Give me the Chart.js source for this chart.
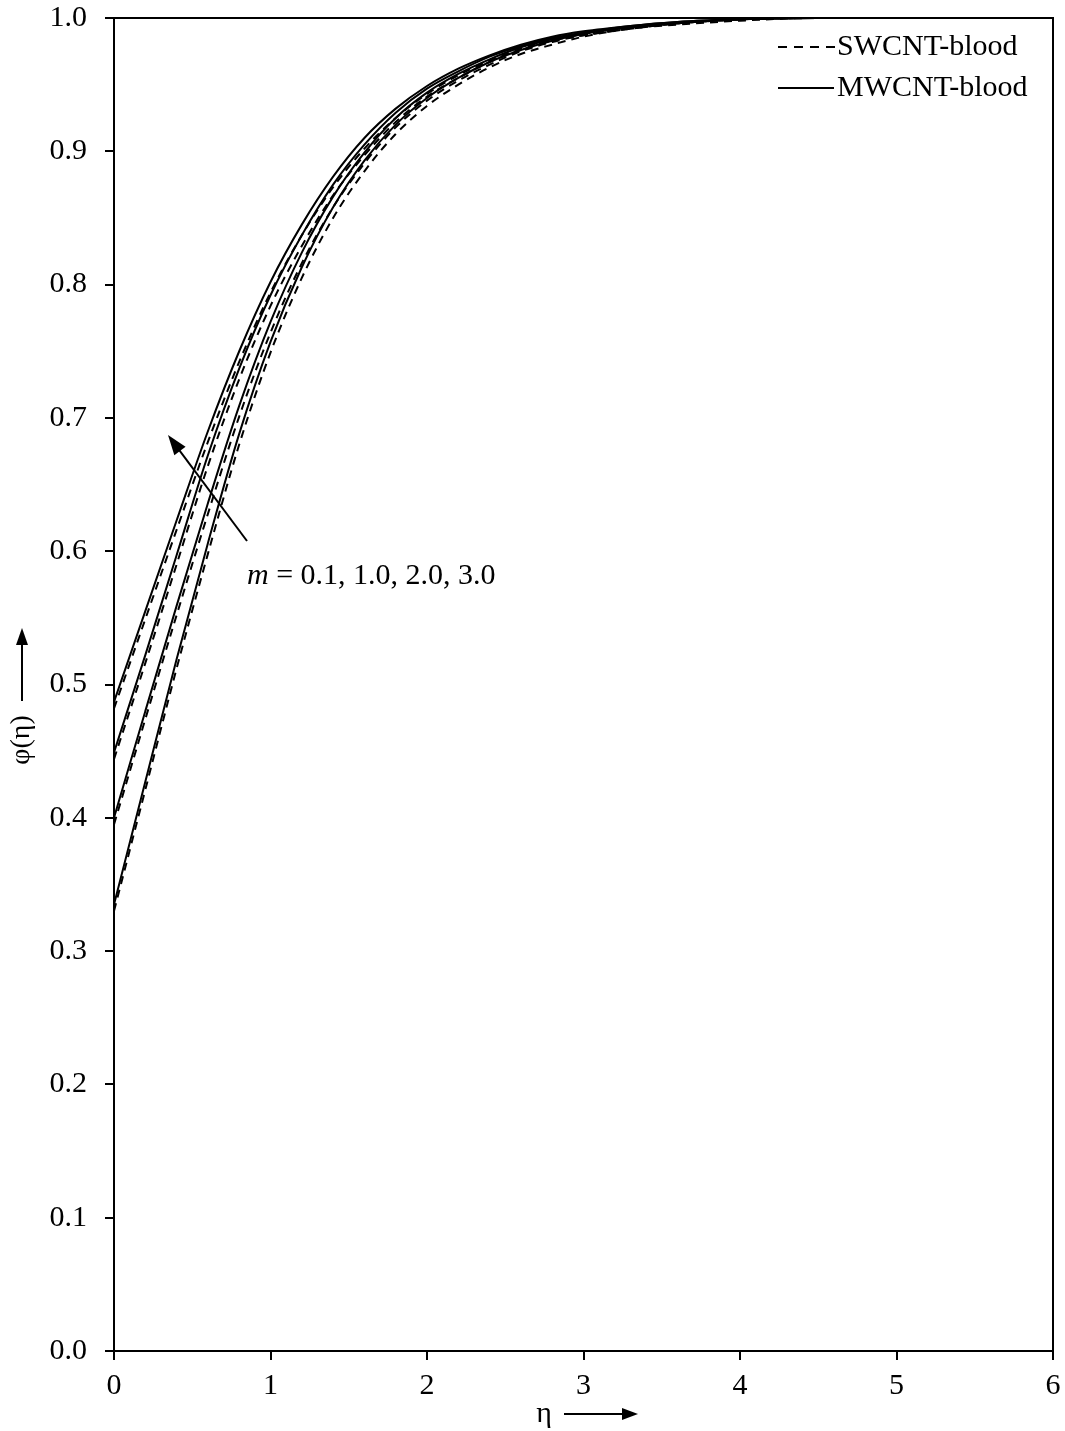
<!DOCTYPE html>
<html><head><meta charset="utf-8">
<script src="https://cdn.jsdelivr.net/npm/chart.js@4"></script>
<style>html,body{margin:0;padding:0;background:#fff}#wrap{width:1065px;height:1431px;position:relative}</style>
</head><body><div id="wrap"><canvas id="c"></canvas></div>
<script>
// eta grid
const eta = [0,0.2,0.4,0.6,0.8,1.0,1.2,1.4,1.6,1.8,2.0,2.2,2.4,2.6,2.8,3.0,3.3,3.6,4.0,4.5,5.0,6.0];
// MWCNT-blood (solid)
const mw_m01 = [0.335,0.427,0.519,0.606,0.688,0.757,0.813,0.858,0.893,0.920,0.940,0.955,0.967,0.976,0.983,0.988,0.993,0.996,0.999,1.0,1.0,1.0];
const mw_m10 = [0.400,0.480,0.559,0.636,0.709,0.772,0.824,0.866,0.899,0.925,0.944,0.958,0.969,0.978,0.984,0.989,0.993,0.996,0.999,1.0,1.0,1.0];
const mw_m20 = [0.449,0.522,0.597,0.672,0.737,0.792,0.837,0.875,0.905,0.929,0.947,0.960,0.971,0.979,0.985,0.989,0.994,0.997,0.999,1.0,1.0,1.0];
const mw_m30 = [0.487,0.555,0.623,0.690,0.750,0.802,0.845,0.881,0.910,0.932,0.949,0.962,0.972,0.980,0.986,0.990,0.994,0.997,0.999,1.0,1.0,1.0];
// SWCNT-blood (dashed)
const sw_m01 = [0.330,0.421,0.512,0.598,0.680,0.749,0.805,0.850,0.885,0.913,0.934,0.950,0.963,0.973,0.980,0.986,0.992,0.995,0.998,1.0,1.0,1.0];
const sw_m10 = [0.395,0.474,0.552,0.628,0.701,0.764,0.816,0.858,0.891,0.918,0.938,0.953,0.965,0.975,0.982,0.987,0.992,0.996,0.999,1.0,1.0,1.0];
const sw_m20 = [0.444,0.516,0.590,0.664,0.729,0.784,0.829,0.867,0.897,0.922,0.941,0.955,0.967,0.976,0.983,0.987,0.992,0.996,0.999,1.0,1.0,1.0];
const sw_m30 = [0.482,0.549,0.616,0.682,0.742,0.794,0.837,0.873,0.902,0.925,0.943,0.957,0.968,0.977,0.983,0.988,0.993,0.996,0.999,1.0,1.0,1.0];

const xTicks = [0,1,2,3,4,5,6];
const yTicks = [0.0,0.1,0.2,0.3,0.4,0.5,0.6,0.7,0.8,0.9,1.0];
const legendLabels = ['SWCNT-blood','MWCNT-blood'];
const annotationText = ['m',' = 0.1, 1.0, 2.0, 3.0'];
const xTitle = 'η';
const yTitle = 'φ(η)';

const FONT = '"Liberation Serif", "Times New Roman", serif';
const pts = arr => arr.map((v,i)=>({x:eta[i], y:v}));
const mk = (label, arr, dashed) => ({
  label, data: pts(arr), borderColor:'#000', backgroundColor:'#000',
  borderWidth:2, pointRadius:0, borderDash: dashed ? [8,6] : [],
  cubicInterpolationMode:'monotone', fill:false
});

const datasets = [
  mk('SWCNT m=0.1', sw_m01, true), mk('SWCNT m=1.0', sw_m10, true),
  mk('SWCNT m=2.0', sw_m20, true), mk('SWCNT m=3.0', sw_m30, true),
  mk('MWCNT m=0.1', mw_m01, false), mk('MWCNT m=1.0', mw_m10, false),
  mk('MWCNT m=2.0', mw_m20, false), mk('MWCNT m=3.0', mw_m30, false)
];

function arrow(ctx, x1, y1, x2, y2, head, width) {
  const a = Math.atan2(y2-y1, x2-x1);
  ctx.beginPath(); ctx.moveTo(x1,y1);
  ctx.lineTo(x2 - Math.cos(a)*head*0.8, y2 - Math.sin(a)*head*0.8); ctx.stroke();
  ctx.beginPath(); ctx.moveTo(x2,y2);
  ctx.lineTo(x2 - head*Math.cos(a) + width*Math.sin(a), y2 - head*Math.sin(a) - width*Math.cos(a));
  ctx.lineTo(x2 - head*Math.cos(a) - width*Math.sin(a), y2 - head*Math.sin(a) + width*Math.cos(a));
  ctx.closePath(); ctx.fill();
}

const decor = {
  id:'decor',
  afterDraw(chart){
    const ctx = chart.ctx, ca = chart.chartArea;
    ctx.save();
    ctx.strokeStyle='#000'; ctx.fillStyle='#000'; ctx.lineWidth=2; ctx.setLineDash([]);
    // frame
    ctx.beginPath(); ctx.moveTo(ca.left, ca.top); ctx.lineTo(ca.right, ca.top); ctx.lineTo(ca.right, ca.bottom); ctx.stroke();
    // legend
    ctx.font = '30px ' + FONT; ctx.textBaseline='middle'; ctx.textAlign='left';
    ctx.setLineDash([9,7]);
    ctx.beginPath(); ctx.moveTo(778,47); ctx.lineTo(835,47); ctx.stroke();
    ctx.setLineDash([]);
    ctx.beginPath(); ctx.moveTo(778,88); ctx.lineTo(834,88); ctx.stroke();
    ctx.fillText(legendLabels[0], 837, 47);
    ctx.fillText(legendLabels[1], 837, 88);
    // annotation arrow
    arrow(ctx, 247, 541, 168, 435, 20, 7);
    ctx.font = 'italic 30px ' + FONT; ctx.textBaseline='alphabetic';
    ctx.fillText(annotationText[0], 247, 584);
    const w = ctx.measureText(annotationText[0]).width;
    ctx.font = '30px ' + FONT;
    ctx.fillText(annotationText[1], 247 + w, 584);
    // x title
    ctx.font = '30px ' + FONT; ctx.textBaseline='middle'; ctx.textAlign='center';
    ctx.fillText(xTitle, 544, 1414);
    arrow(ctx, 564, 1414, 638, 1414, 16, 6);
    // y title
    ctx.save(); ctx.translate(22, 740); ctx.rotate(-Math.PI/2);
    ctx.font = '28px ' + FONT; ctx.textAlign='center'; ctx.textBaseline='middle';
    ctx.fillText(yTitle, 0, 0); ctx.restore();
    arrow(ctx, 22, 701, 22, 628, 17, 6);
    ctx.restore();
  }
};

new Chart(document.getElementById('c'), {
  type:'line',
  data:{datasets},
  options:{
    responsive:true, maintainAspectRatio:false, animation:false, devicePixelRatio:1,
    layout:{padding:0},
    plugins:{legend:{display:false}, tooltip:{enabled:false}},
    scales:{
      x:{type:'linear', min:0, max:6,
        afterBuildTicks(s){ s.ticks = xTicks.map(v=>({value:v})); },
        ticks:{font:{family:FONT,size:30}, color:'#000', padding:8, maxRotation:0, callback:v=>String(v)},
        grid:{drawOnChartArea:false, tickLength:9, color:'#000', lineWidth:2},
        border:{color:'#000', width:2},
        afterFit(s){ s.height = 80; s.paddingLeft = 0; s.paddingRight = 12; }
      },
      y:{type:'linear', min:0, max:1,
        afterBuildTicks(s){ s.ticks = yTicks.map(v=>({value:v})); },
        ticks:{font:{family:FONT,size:30}, color:'#000', padding:18, callback:v=>Number(v).toFixed(1)},
        grid:{drawOnChartArea:false, tickLength:9, color:'#000', lineWidth:2},
        border:{color:'#000', width:2},
        afterFit(s){ s.width = 114; s.paddingTop = 18; s.paddingBottom = 0; }
      }
    }
  },
  plugins:[decor]
});
</script></body></html>
